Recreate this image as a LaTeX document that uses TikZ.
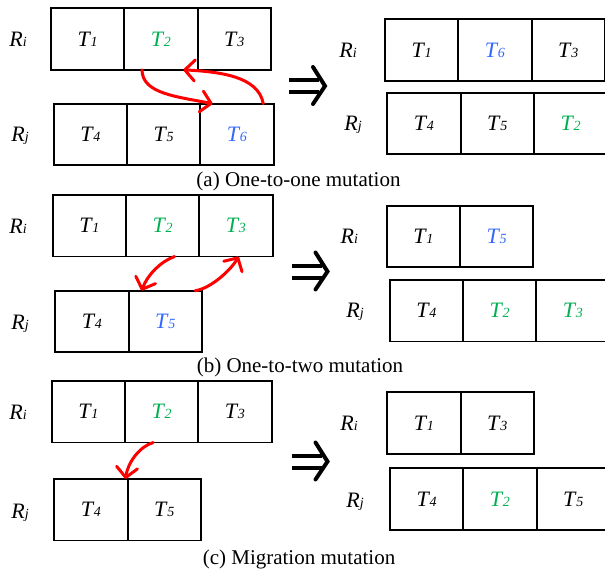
\documentclass[tikz,border=0pt]{standalone}
\usepackage{fontspec}
\setmainfont{Liberation Serif}
\usetikzlibrary{arrows.meta,calc}

\definecolor{taskgreen}{RGB}{0,176,80}
\definecolor{taskblue}{RGB}{51,102,255}
\definecolor{moveRed}{RGB}{255,0,0}

% task label T_k and resource label R_x
\newcommand\tsk[1]{\textit{T}\kern-0.5pt{\fontsize{14}{14}\selectfont\itshape #1}}
\newcommand\rlab[1]{\textit{R}{\fontsize{14}{14}\selectfont\itshape #1}}

\tikzset{
  cell/.style={draw, line width=1.8pt, minimum width=73.3pt, minimum height=61.5pt,
    inner sep=0pt, outer sep=0pt, anchor=north west, font=\fontsize{22}{22}\selectfont},
  rname/.style={anchor=base, inner sep=0pt, font=\fontsize{22}{22}\selectfont},
  caption/.style={inner sep=0pt, font=\fontsize{21}{21}\selectfont},
  move/.style={draw=moveRed, line width=3pt, line cap=round,
    -{Straight Barb[length=10pt,width=21pt,line cap=round,line join=round]}},
  implies/.pic={
    \draw[line width=4pt] (-18,-6) -- (12,-6) (-18,6) -- (12,6);
    \draw[line width=4pt, line cap=round, line join=miter] (6,-19) -- (18,0) -- (6,18);
  }
}

\begin{document}
\begin{tikzpicture}[x=1pt,y=-1pt]
\useasboundingbox (0,0) rectangle (605,571);

% ---------- (a) one-to-one ----------
\node[cell] (ai1) at (51,8.3) {\tsk{1}};
\node[cell] (ai2) at (ai1.north east) {\color{taskgreen}\tsk{2}};
\node[cell] (ai3) at (ai2.north east) {\tsk{3}};
\node[cell] (aj1) at (53.7,103.7) {\tsk{4}};
\node[cell] (aj2) at (aj1.north east) {\tsk{5}};
\node[cell] (aj3) at (aj2.north east) {\color{taskblue}\tsk{6}};
\node[rname] (aRi) at (18,46.5) {\rlab{i}};
\node[rname] (aRj) at (20,141.5) {\rlab{j}};

\draw[move] ($(ai2.south west)+(17.7,0)$) .. controls +(0,24) and +(-35,-7) .. ($(aj3.north west)+(12.3,0)$);
\draw[move] ($(aj3.north west)+(63,0)$) .. controls +(-5,-28) and +(35,2) .. ($(ai2.south east)+(-14.3,0)$);

\pic (impa) at (307,86) {implies};

\node[cell] (ri1) at (385,19.3) {\tsk{1}};
\node[cell] (ri2) at (ri1.north east) {\color{taskblue}\tsk{6}};
\node[cell] (ri3) at (ri2.north east) {\tsk{3}};
\node[cell] (rj1) at (387.3,92.7) {\tsk{4}};
\node[cell] (rj2) at (rj1.north east) {\tsk{5}};
\node[cell] (rj3) at (rj2.north east) {\color{taskgreen}\tsk{2}};
\node[rname] (arRi) at (348,57) {\rlab{i}};
\node[rname] (arRj) at (353,130.5) {\rlab{j}};

\node[caption] (capa) at (298.5,181.5) {(a) One-to-one mutation};

% ---------- (b) one-to-two ----------
\node[cell] (bi1) at (52.7,195) {\tsk{1}};
\node[cell] (bi2) at (bi1.north east) {\color{taskgreen}\tsk{2}};
\node[cell] (bi3) at (bi2.north east) {\color{taskgreen}\tsk{3}};
\node[cell] (bj1) at (55.3,290.7) {\tsk{4}};
\node[cell] (bj2) at (bj1.north east) {\color{taskblue}\tsk{5}};
\node[rname] (bRi) at (18,233) {\rlab{i}};
\node[rname] (bRj) at (20,329) {\rlab{j}};

\draw[move] ($(bi2.south west)+(48.6,0)$) .. controls +(-14,5) and +(6,-16) .. ($(bj2.north west)+(13,0)$);
\draw[move] ($(bj2.north east)+(-6.7,0)$) .. controls +(15,-2) and +(-8,14) .. ($(bi3.south west)+(39.3,0)$);

\pic (impb) at (309.5,271.5) {implies};

\node[cell] (si1) at (386.7,205.7) {\tsk{1}};
\node[cell] (si2) at (si1.north east) {\color{taskblue}\tsk{5}};
\node[cell] (sj1) at (389.7,280) {\tsk{4}};
\node[cell] (sj2) at (sj1.north east) {\color{taskgreen}\tsk{2}};
\node[cell] (sj3) at (sj2.north east) {\color{taskgreen}\tsk{3}};
\node[rname] (brRi) at (349.3,243.5) {\rlab{i}};
\node[rname] (brRj) at (355,317.5) {\rlab{j}};

\node[caption] (capb) at (300,367) {(b) One-to-two mutation};

% ---------- (c) migration ----------
\node[cell] (ci1) at (51.7,381) {\tsk{1}};
\node[cell] (ci2) at (ci1.north east) {\color{taskgreen}\tsk{2}};
\node[cell] (ci3) at (ci2.north east) {\tsk{3}};
\node[cell] (cj1) at (54.3,479) {\tsk{4}};
\node[cell] (cj2) at (cj1.north east) {\tsk{5}};
\node[rname] (cRi) at (18,419) {\rlab{i}};
\node[rname] (cRj) at (20,518) {\rlab{j}};

\draw[move] ($(ci2.south west)+(28.3,0)$) .. controls +(-14,4) and +(2,-16) .. ($(cj2.north west)+(-2,0)$);

\pic (impc) at (309.5,461.5) {implies};

\node[cell] (ti1) at (387.3,392.3) {\tsk{1}};
\node[cell] (ti2) at (ti1.north east) {\tsk{3}};
\node[cell] (tj1) at (390,468.3) {\tsk{4}};
\node[cell] (tj2) at (tj1.north east) {\color{taskgreen}\tsk{2}};
\node[cell] (tj3) at (tj2.north east) {\tsk{5}};
\node[rname] (crRi) at (349,430.5) {\rlab{i}};
\node[rname] (crRj) at (355,507) {\rlab{j}};

\node[caption] (capc) at (299,559) {(c) Migration mutation};
\end{tikzpicture}
\end{document}
